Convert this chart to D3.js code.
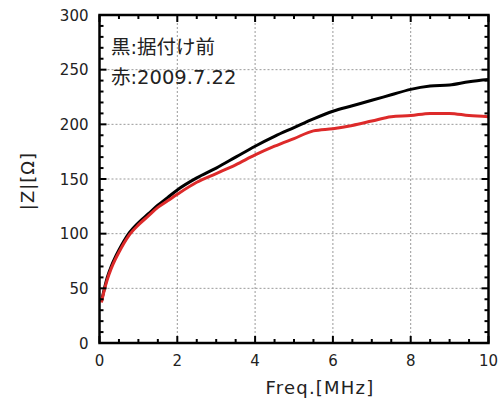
<!DOCTYPE html>
<html><head><meta charset="utf-8">
<script src="https://cdn.jsdelivr.net/npm/d3@7"></script>
<style>body{margin:0;background:#fff}svg{display:block}</style>
</head><body>
<script>
const freq = [0.05,0.1,0.2,0.3,0.4,0.5,0.75,1.0,1.25,1.5,1.75,2.0,2.5,3.0,3.5,4.0,4.5,5.0,5.5,6.0,6.5,7.0,7.5,8.0,8.5,9.0,9.5,10.0];
const zBefore = [38,46,60,70,78,85,100,110,118,126,133,140,151,160,170,180,189,197,205,212,217,222,227,232,235,236,239,241];
const zAfter  = [37,45,58,68,76,83,98,108,116,124,130,136,147,155,163,172,180,187,194,196,199,203,207,208,210,210,208,207];
const xTicks = [0,2,4,6,8,10];
const yTicks = [0,50,100,150,200,250,300];
const legendLines = ["黒:据付け前","赤:2009.7.22"];
const xLabel = "Freq.[MHz]";
const yLabel = "|Z|[Ω]";

const W=500,H=401;
const L=99.5,R=488.5,T=15,B=343;
const font = "'DejaVu Sans','Noto Sans CJK JP',sans-serif";
const svg = d3.select("body").append("svg").attr("width",W).attr("height",H);
const x = d3.scaleLinear().domain([0,10]).range([L,R]);
const y = d3.scaleLinear().domain([0,300]).range([B,T]);

// grid
const g = svg.append("g");
g.selectAll("line.gx").data(xTicks.slice(1,-1)).join("line")
  .attr("x1",d=>x(d)).attr("x2",d=>x(d)).attr("y1",T).attr("y2",B)
  .attr("stroke","#999").attr("stroke-width",1).attr("stroke-dasharray","2,2");
g.selectAll("line.gy").data(yTicks.slice(1,-1)).join("line")
  .attr("y1",d=>y(d)).attr("y2",d=>y(d)).attr("x1",L).attr("x2",R)
  .attr("stroke","#999").attr("stroke-width",1).attr("stroke-dasharray","2,2");

// curves
const line = d3.line().curve(d3.curveMonotoneX).x(d=>x(d[0])).y(d=>y(d[1]));
svg.append("path").datum(freq.map((f,i)=>[f,zBefore[i]])).attr("d",line)
  .attr("fill","none").attr("stroke","#000").attr("stroke-width",3);
svg.append("path").datum(freq.map((f,i)=>[f,zAfter[i]])).attr("d",line)
  .attr("fill","none").attr("stroke","#dd2a2a").attr("stroke-width",3);

// axes (inward ticks, mirrored)
const xMinor = d3.range(0,10.001,0.5);
const yMinor = d3.range(0,300.001,10);
function tickLen(isMajor){return isMajor?7:4;}
const axG = svg.append("g").attr("stroke","#000").attr("stroke-width",2);
xMinor.forEach(v=>{
  const len = tickLen(Math.abs(v%2)<1e-9);
  axG.append("line").attr("x1",x(v)).attr("x2",x(v)).attr("y1",B).attr("y2",B-len);
  axG.append("line").attr("x1",x(v)).attr("x2",x(v)).attr("y1",T).attr("y2",T+len);
});
yMinor.forEach(v=>{
  const len = tickLen(Math.abs(v%50)<1e-9);
  axG.append("line").attr("y1",y(v)).attr("y2",y(v)).attr("x1",L).attr("x2",L+len);
  axG.append("line").attr("y1",y(v)).attr("y2",y(v)).attr("x1",R).attr("x2",R-len);
});
svg.append("rect").attr("x",L).attr("y",T).attr("width",R-L).attr("height",B-T)
  .attr("fill","none").attr("stroke","#000").attr("stroke-width",2.5);

// tick labels
svg.selectAll("text.xt").data(xTicks).join("text")
  .attr("x",d=>x(d)).attr("y",B+23).attr("text-anchor","middle")
  .attr("font-family",font).attr("font-size",15).attr("fill","#222").text(d=>d);
svg.selectAll("text.yt").data(yTicks).join("text")
  .attr("x",L-11).attr("y",d=>y(d)+5.5).attr("text-anchor","end")
  .attr("font-family",font).attr("font-size",15).attr("fill","#222").text(d=>d);

// axis labels
svg.append("text").attr("x",(L+R)/2+26).attr("y",394).attr("text-anchor","middle")
  .attr("font-family",font).attr("font-size",18).attr("letter-spacing",1.2).attr("fill","#222").text(xLabel);
svg.append("text").attr("transform","translate(34,181) rotate(-90)").attr("text-anchor","middle")
  .attr("font-family",font).attr("font-size",18).attr("letter-spacing",1).attr("fill","#222").text(yLabel);

// legend text
svg.selectAll("text.lg").data(legendLines).join("text")
  .attr("x",111).attr("y",(d,i)=>54+i*30)
  .attr("font-family",font).attr("font-size",19.5).attr("fill","#222").text(d=>d);
</script>
</body></html>
